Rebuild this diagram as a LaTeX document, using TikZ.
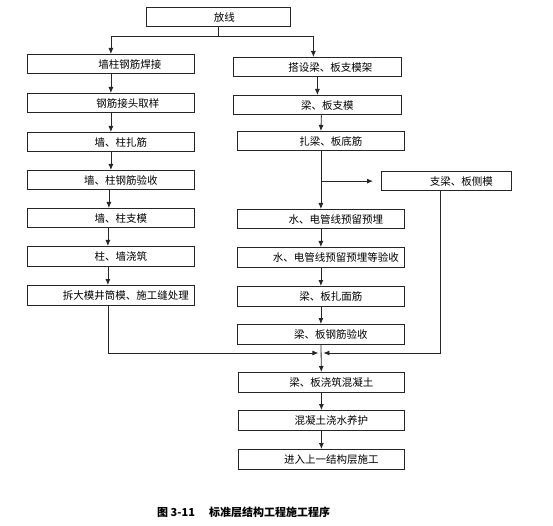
\documentclass[tikz,border=0pt]{standalone}
\usepackage{fontspec}
\newfontfamily\cjk{Noto Sans CJK SC}
\usetikzlibrary{arrows.meta}
\begin{document}
\begin{tikzpicture}[x=1pt,y=-1pt,
  box/.style={draw=black!85, line width=0.8pt, minimum height=19.5pt, inner sep=0pt, anchor=north west,
    font=\cjk\fontsize{10.5}{12}\selectfont},
  lw/.style={minimum width=167pt},
  rw/.style={minimum width=167pt},
  conn/.style={draw=black!85, line width=0.8pt},
  arr/.style={conn, -{Latex[length=6pt,width=5pt]}}]
\useasboundingbox (0,0) rectangle (553,526);
% top
\node[box, minimum width=144pt] (top) at (146,7) {\hspace*{12pt}放线};
% left column
\node[box,lw] (l1) at (27,54) {\hspace*{38pt}墙柱钢筋焊接};
\node[box,lw] (l2) at (27,93) {\hspace*{34pt}钢筋接头取样};
\node[box,lw] (l3) at (27,132) {\hspace*{20pt}墙、柱扎筋};
\node[box,lw] (l4) at (27,170) {\hspace*{20pt}墙、柱钢筋验收};
\node[box,lw] (l5) at (27,208) {\hspace*{20pt}墙、柱支模};
\node[box,lw] (l6) at (27,246) {\hspace*{20pt}柱、墙浇筑};
\node[box,lw] (l7) at (27,285) {\hspace*{30pt}拆大模井筒模、施工缝处理};
% right column
\node[box, minimum width=168pt] (r1) at (233,57) {\hspace*{26pt}搭设梁、板支模架};
\node[box, minimum width=168pt] (r2) at (233,95) {\hspace*{20pt}梁、板支模};
\node[box,rw] (r3) at (237,131) {\hspace*{20pt}扎梁、板底筋};
\node[box, minimum width=130pt] (side) at (381,171) {\hspace*{30pt}支梁、板侧模};
\node[box,rw] (r4) at (237,209) {\hspace*{30pt}水、电管线预留预埋};
\node[box,rw] (r5) at (237,247) {\hspace*{30pt}水、电管线预留预埋等验收};
\node[box,rw] (r6) at (237,286) {\hspace*{20pt}梁、板扎面筋};
\node[box,rw] (r7) at (237,324) {\hspace*{20pt}梁、板钢筋验收};
\node[box, minimum width=166pt] (b1) at (238,372) {\hspace*{20pt}梁、板浇筑混凝土};
\node[box, minimum width=166pt] (b2) at (238,410) {\hspace*{20pt}混凝土浇水养护};
\node[box, minimum width=166pt] (b3) at (238,449) {\hspace*{20pt}进入上一结构层施工};
% caption
\node[anchor=west, inner sep=0pt, font=\cjk\bfseries\fontsize{11}{13}\selectfont] (cap) at (157,512) {图 3-11\hspace{14pt}标准层结构工程施工程序};
% junctions
\coordinate (j0) at (top.south |- 0,36);
\coordinate (jb) at (r3.south |- side.west);
\coordinate (m) at (r7.south |- 0,353);
% connectors
\draw[conn] (top.south) -- (j0);
\draw[arr] (j0) -| (l1.north);
\draw[arr] (j0) -| ([xshift=-4pt]r1.north);
\draw[arr] (l1) -- (l2);
\draw[arr] (l2) -- (l3);
\draw[arr] (l3) -- (l4);
\draw[arr] ([xshift=-2pt]l4.south) -- ([xshift=-2pt]l5.north);
\draw[arr] ([xshift=-3pt]l5.south) -- ([xshift=-3pt]l6.north);
\draw[arr] ([xshift=-3pt]l6.south) -- ([xshift=-3pt]l7.north);
\draw[arr] (r1) -- (r2);
\draw[arr] ([xshift=4pt]r2.south) -- (r3.north);
\draw[arr] (r3) -- (r4);
\draw[arr] (jb) -- ([xshift=-8pt]side.west);
\draw[arr] (r4) -- (r5);
\draw[arr] (r5) -- (r6);
\draw[arr] (r6) -- (r7);
\draw[arr] (r7) -- (b1);
\draw[arr, shorten >=2.5pt] ([xshift=-3pt]l7.south) |- (m);
\draw[arr, shorten >=2.5pt] ([xshift=-6pt]side.south) |- (m);
\draw[arr] (b1) -- (b2);
\draw[arr] (b2) -- (b3);
\end{tikzpicture}
\end{document}
